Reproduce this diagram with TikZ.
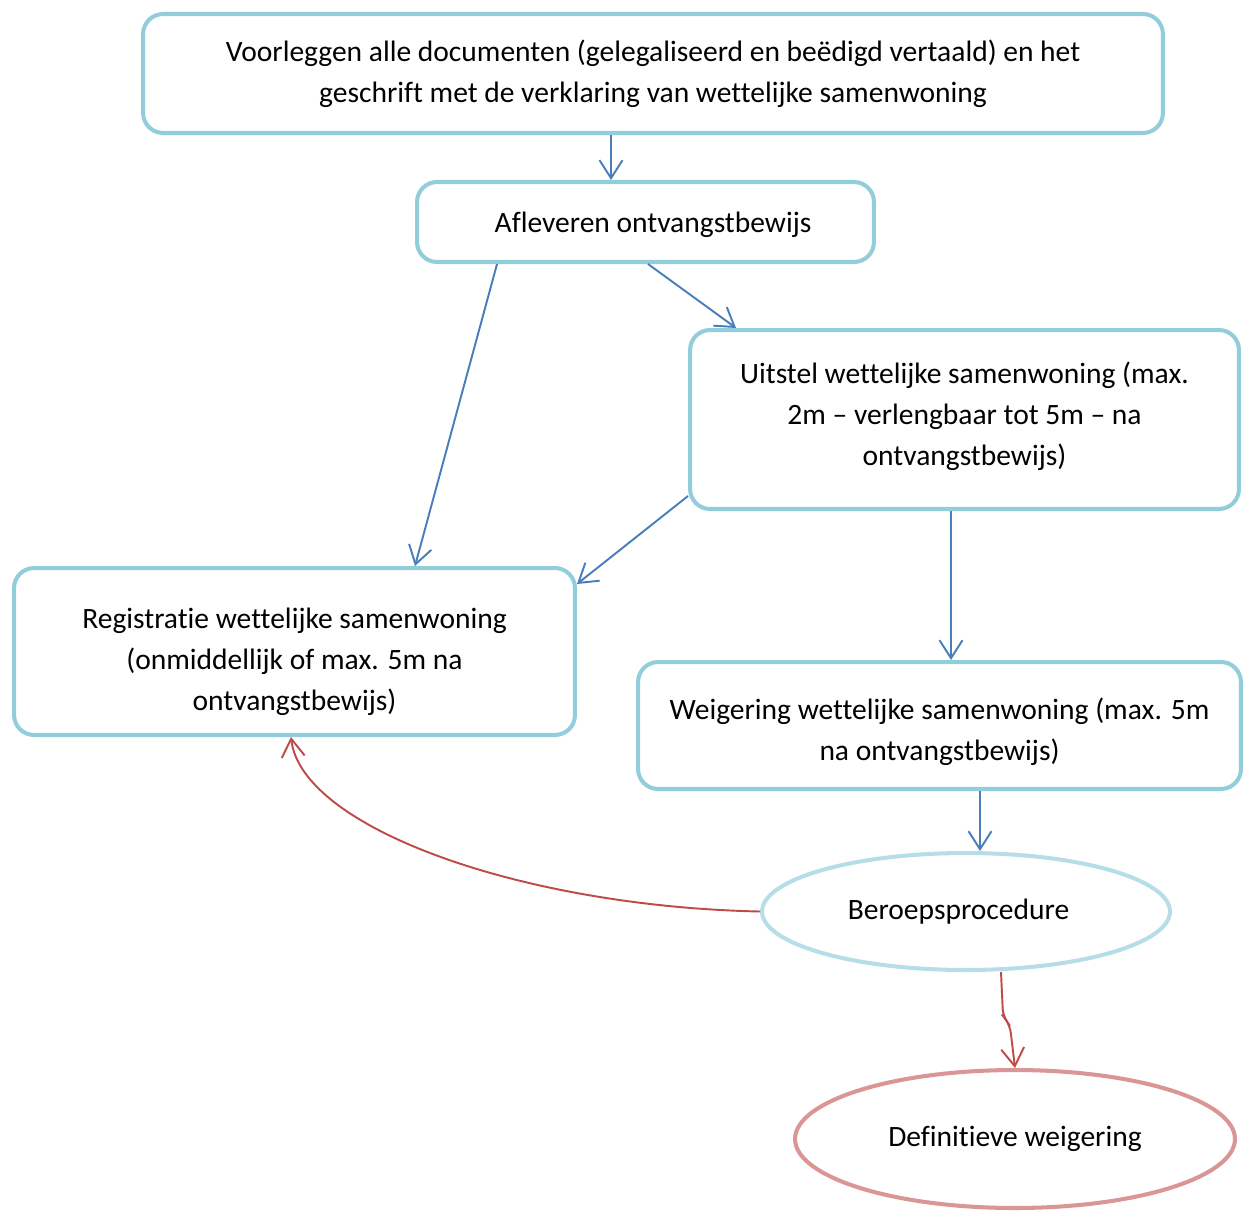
\documentclass[tikz,border=0pt]{standalone}
\usepackage{fontspec}
\setmainfont{Carlito}[Ligatures=NoCommon]
\usepackage{tikz}
\usetikzlibrary{positioning, shapes.geometric, arrows.meta}
\definecolor{box-blue}{RGB}{146,205,220}
\definecolor{oval-blue}{RGB}{183,221,232}
\definecolor{oval-red}{RGB}{217,150,148}
\definecolor{arr-blue}{RGB}{74,126,187}
\definecolor{arr-red}{RGB}{190,75,72}
\newcommand{\boxtext}[2]{\raisebox{#1}[\height][\depth]{\begin{tabular}{@{}c@{}}#2\end{tabular}}}

\begin{document}
\begin{tikzpicture}[x=0.02cm, y=-0.02cm]
	\tikzset{box/.style={rectangle, draw=box-blue, line width=2.3pt, rounded corners=0.4cm, align=center, inner sep=0pt, font=\fontsize{16.8}{23.3}\selectfont}}
	\tikzset{oval/.style={ellipse, line width=2.3pt, align=center, inner sep=0pt, font=\fontsize{16.8}{23.3}\selectfont}}
	\tikzset{arr/.style={-{Straight Barb[length=3.6mm, width=4.6mm]}, line width=1.1pt, draw=arr-blue}}
	\tikzset{redarr/.style={arr, draw=arr-red}}

	\useasboundingbox (0,0) rectangle (1243,1210);

	\node[box, minimum width=20.4cm, minimum height=2.38cm] (docs) at (653,73.5)
		{Voorleggen alle documenten (gelegaliseerd en beëdigd vertaald) en het\\geschrift met de verklaring van wettelijke samenwoning};
	\node[box, minimum width=9.14cm, minimum height=1.6cm] (receipt) at (645.5,222)
		{\boxtext{-0.04cm}{\hspace*{0.3cm}Afleveren ontvangstbewijs}};
	\node[box, minimum width=10.98cm, minimum height=3.58cm] (delay) at (964.5,419.5)
		{\boxtext{0.06cm}{Uitstel wettelijke samenwoning (max.\\2m -- verlengbaar tot 5m -- na\\ontvangstbewijs)}};
	\node[box, minimum width=11.22cm, minimum height=3.34cm] (reg) at (294.5,651.5)
		{\boxtext{-0.19cm}{Registratie wettelijke samenwoning\\(onmiddellijk of max. 5m na\\ontvangstbewijs)}};
	\node[box, minimum width=12.06cm, minimum height=2.54cm] (refusal) at (939.5,725.5)
		{\boxtext{-0.12cm}{Weigering wettelijke samenwoning (max. 5m\\na ontvangstbewijs)}};
	\node[oval, draw=oval-blue, minimum width=8.16cm, minimum height=2.34cm] (appeal) at (966,911.5)
		{\hspace*{-0.3cm}Beroepsprocedure};
	\node[oval, draw=oval-red, minimum width=8.8cm, minimum height=2.76cm] (final) at (1015,1139)
		{Definitieve weigering};

	\draw[arr] ([xshift=-0.84cm]docs.south) -- ([xshift=-0.69cm]receipt.north);
	\draw[arr] ([xshift=0.05cm]receipt.south) -- ([xshift=-4.57cm]delay.north);
	\draw[arr] ([xshift=-2.97cm]receipt.south) -- ([xshift=2.41cm]reg.north);
	\draw[arr] ([yshift=-1.53cm]delay.west) -- ([yshift=1.35cm]reg.east);
	\draw[arr] ([xshift=-0.27cm]delay.south) -- ([xshift=0.23cm]refusal.north);
	\draw[arr] ([xshift=0.81cm]refusal.south) -- ([xshift=0.28cm]appeal.north);

	\draw[redarr] (appeal.west) .. controls +(-240,-5) and +(10,90) .. ([xshift=-0.07cm]reg.south);
	\coordinate (kink) at (1006,1020);
	\draw[redarr, rounded corners=4pt] ([xshift=0.7cm]appeal.south) -- (1003,1016) -- (kink) -- (1010,1026) -- (final.north);
\end{tikzpicture}
\end{document}
